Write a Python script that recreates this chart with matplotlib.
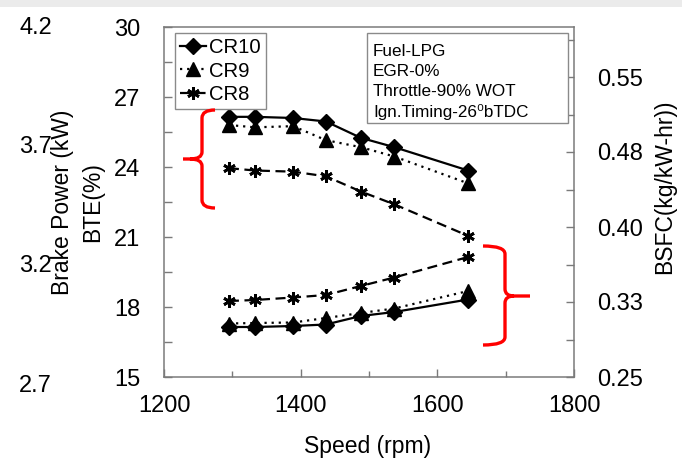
import matplotlib
matplotlib.use("Agg")
import matplotlib.pyplot as plt
from matplotlib.path import Path
from matplotlib.patches import PathPatch, Rectangle
from matplotlib.lines import Line2D
from matplotlib.ticker import FixedLocator, FixedFormatter

plt.rcParams['font.family'] = ['Liberation Sans', 'DejaVu Sans']

# Engine speed (rpm)
speed = [1295, 1333, 1389, 1437, 1488, 1537, 1645]

# Brake thermal efficiency (%)
bte_cr10 = [26.15, 26.15, 26.1, 25.95, 25.25, 24.85, 23.85]
bte_cr9 = [25.8, 25.7, 25.75, 25.15, 24.85, 24.45, 23.3]
bte_cr8 = [23.95, 23.85, 23.8, 23.6, 22.95, 22.4, 21.05]

# Brake specific fuel consumption (kg/kW-hr)
bsfc_cr10 = [0.300, 0.300, 0.301, 0.3025, 0.311, 0.315, 0.3275]
bsfc_cr9 = [0.3035, 0.304, 0.3045, 0.309, 0.314, 0.3185, 0.336]
bsfc_cr8 = [0.326, 0.327, 0.3295, 0.332, 0.341, 0.3495, 0.370]

series_labels = ["CR10", "CR9", "CR8"]
x_ticks = [1200, 1400, 1600, 1800]
bte_ticks = [15, 18, 21, 24, 27, 30]
bsfc_ticks = [0.25, 0.325, 0.40, 0.475, 0.55]
bsfc_tick_labels = ["0.25", "0.33", "0.40", "0.48", "0.55"]
bp_ticks = [2.7, 3.2, 3.7, 4.2]
bp_tick_labels = ["2.7", "3.2", "3.7", "4.2"]
notes = ["Fuel-LPG", "EGR-0%", "Throttle-90% WOT", "Ign.Timing-26\u2070bTDC"]

W, H = 682, 459
fig = plt.figure(figsize=(W / 100, H / 100), dpi=100)

# axes box in pixels
L, R, T, B = 164, 574, 27, 377
rect = [L / W, 1 - B / H, (R - L) / W, (B - T) / H]

spine_c = "#7a7a7a"
tick_fs = 17
lab_fs = 16.5

# Brake power scale on the far left (labels only)
ax3 = fig.add_axes([L / W, 1 - 383 / H, (R - L) / W, (383 - 25) / H], frameon=False)
ax3.set_xticks([])
ax3.set_ylim(2.7, 4.2)
ax3.yaxis.set_major_locator(FixedLocator(bp_ticks))
ax3.yaxis.set_major_formatter(FixedFormatter(bp_tick_labels))
ax3.tick_params(axis='y', length=0, pad=80.5, labelsize=tick_fs)
ax3.patch.set_visible(False)

ax = fig.add_axes(rect)
ax.patch.set_visible(False)
ax2 = ax.twinx()

style = dict(color="black", lw=1.6)
ax.plot(speed, bte_cr10, ls="-", marker="D", ms=8, **style)
ax.plot(speed, bte_cr9, ls=(0, (1, 2.2)), marker="^", ms=10, **style)
ax.plot(speed, bte_cr8, ls=(0, (4.5, 2.5)), marker=(6, 2, 0), ms=9, mew=2, **style)
ax2.plot(speed, bsfc_cr10, ls="-", marker="D", ms=8, **style)
ax2.plot(speed, bsfc_cr9, ls=(0, (1, 2.2)), marker="^", ms=10, **style)
ax2.plot(speed, bsfc_cr8, ls=(0, (4.5, 2.5)), marker=(6, 2, 0), ms=9, mew=2, **style)

ax.set_xlim(1200, 1800)
ax.set_ylim(15, 30)
ax2.set_ylim(0.25, 0.60)

ax.set_xticks(x_ticks)
ax.set_xticks([1300, 1500, 1700], minor=True)
ax.set_yticks(bte_ticks)
ax.set_yticks([16.5, 19.5, 22.5, 25.5, 28.5], minor=True)
ax2.yaxis.set_major_locator(FixedLocator(bsfc_ticks))
ax2.yaxis.set_major_formatter(FixedFormatter(bsfc_tick_labels))
ax2.yaxis.set_minor_locator(FixedLocator([0.2875, 0.3625, 0.4375, 0.5125, 0.5875]))

for a in (ax, ax2):
    for s in a.spines.values():
        s.set_color(spine_c)
        s.set_linewidth(1.1)
ax.spines['right'].set_visible(False)
ax2.spines['left'].set_visible(False)
ax2.spines['top'].set_visible(False)
ax2.spines['bottom'].set_visible(False)

ax.tick_params(axis='x', which='both', direction='in', color=spine_c, labelsize=tick_fs, pad=13)
ax.tick_params(axis='x', which='major', length=6, width=1)
ax.tick_params(axis='x', which='minor', length=4.5, width=1)
ax.tick_params(axis='y', which='both', direction='in', length=5.5, width=1, color=spine_c,
               labelsize=tick_fs, pad=17)
ax2.tick_params(axis='y', which='both', direction='in', length=5.5, width=1, color=spine_c,
                labelsize=tick_fs, pad=16.5)

# axis titles
fig.text(368 / W, 1 - 447 / H, "Speed (rpm)", ha="center", va="center", fontsize=lab_fs)
fig.text(63 / W, 1 - 202 / H, "Brake Power (kW)", ha="center", va="center",
         rotation=90, fontsize=lab_fs)
fig.text(93 / W, 1 - 202 / H, "BTE(%)", ha="center", va="center",
         rotation=90, fontsize=lab_fs)
fig.text(665 / W, 1 - 187 / H, "BSFC(kg/kW-hr))", ha="center", va="center",
         rotation=90, fontsize=lab_fs)

# legend
handles = [
    Line2D([], [], color="black", lw=1.6, ls="-", marker="D", ms=8),
    Line2D([], [], color="black", lw=1.6, ls=(0, (1, 2.2)), marker="^", ms=10),
    Line2D([], [], color="black", lw=1.6, ls=(0, (4.5, 2.5)), marker=(6, 2, 0), ms=9, mew=2),
]
leg = ax.legend(handles, series_labels, loc="upper left",
                bbox_to_anchor=((175 - L) / (R - L), (B - 33) / (B - T)),
                borderaxespad=0, fontsize=14.6, handlelength=1.3, handletextpad=0.15,
                borderpad=0.25, labelspacing=0.22, fancybox=False, framealpha=1,
                edgecolor="#8a8a8a")
leg.get_frame().set_linewidth(1.0)


def px(x, y):
    return (x / W, 1 - y / H)


# conditions box
bx0, by0, bx1, by1 = 367, 33, 568, 123
fig.patches.append(Rectangle(px(bx0, by1), (bx1 - bx0) / W, (by1 - by0) / H,
                             transform=fig.transFigure, fill=True, facecolor="white",
                             edgecolor="#8a8a8a", lw=1.0, zorder=5))
for i, line in enumerate(notes):
    fig.text(373 / W, 1 - (52 + 20 * i) / H, line, ha="left", va="center",
             fontsize=12.3, zorder=6)


# red braces
def brace(points_codes):
    verts = [px(*p) for p, _ in points_codes]
    codes = [c for _, c in points_codes]
    fig.patches.append(PathPatch(Path(verts, codes), transform=fig.transFigure,
                                 fill=False, edgecolor="#ff0000", lw=2.4,
                                 capstyle="butt", joinstyle="round", zorder=7))


M, Ln, C3 = Path.MOVETO, Path.LINETO, Path.CURVE3
brace([((215, 110), M), ((202, 110), C3), ((202, 118), C3), ((202, 152), Ln),
       ((202, 159), C3), ((190, 159), C3), ((183, 159), Ln),
       ((190, 159), M), ((202, 159), C3), ((202, 166), C3),
       ((202, 200), Ln), ((202, 208), C3), ((215, 208), C3)])
brace([((483, 246), M), ((505, 246), C3), ((505, 254), C3), ((505, 289), Ln),
       ((505, 296), C3), ((514, 296), C3), ((530, 296), Ln),
       ((514, 296), M), ((505, 296), C3), ((505, 303), C3),
       ((505, 337), Ln), ((505, 345), C3), ((483, 345), C3)])

# faint band at the top edge
fig.patches.append(Rectangle((0, 1 - 7 / H), 1, 7 / H, transform=fig.transFigure,
                             facecolor="#ebebeb", edgecolor="none", zorder=0))

fig.savefig("out.png", dpi=100)
